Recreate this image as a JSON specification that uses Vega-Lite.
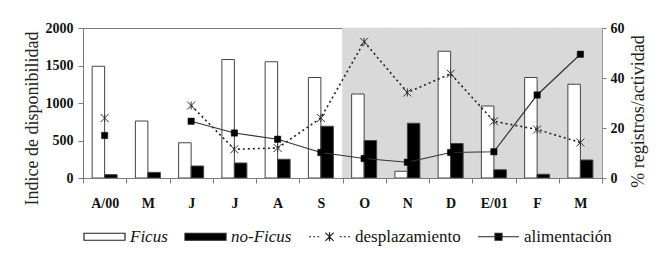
{
  "$schema": "https://vega.github.io/schema/vega-lite/v6.json",
  "width": 519,
  "height": 150,
  "autosize": "none",
  "padding": {"left": 83, "top": 28, "right": 68, "bottom": 91},
  "background": "white",
  "data": {"values": [
    {"mes": "A/00", "Ficus": 1490, "no-Ficus": 45, "desplazamiento": 24, "alimentacion": 17},
    {"mes": "May", "Ficus": 760, "no-Ficus": 75, "desplazamiento": null, "alimentacion": null},
    {"mes": "Jun", "Ficus": 470, "no-Ficus": 160, "desplazamiento": 29, "alimentacion": 22.7},
    {"mes": "Jul", "Ficus": 1580, "no-Ficus": 200, "desplazamiento": 11.5, "alimentacion": 18},
    {"mes": "Ago", "Ficus": 1550, "no-Ficus": 250, "desplazamiento": 12, "alimentacion": 15.5},
    {"mes": "Sep", "Ficus": 1340, "no-Ficus": 690, "desplazamiento": 24, "alimentacion": 10.2},
    {"mes": "Oct", "Ficus": 1120, "no-Ficus": 500, "desplazamiento": 54.5, "alimentacion": 7.8},
    {"mes": "Nov", "Ficus": 90, "no-Ficus": 730, "desplazamiento": 34.2, "alimentacion": 6.3},
    {"mes": "Dic", "Ficus": 1690, "no-Ficus": 460, "desplazamiento": 41.7, "alimentacion": 10.2},
    {"mes": "E/01", "Ficus": 960, "no-Ficus": 110, "desplazamiento": 22.7, "alimentacion": 10.5},
    {"mes": "Feb", "Ficus": 1340, "no-Ficus": 50, "desplazamiento": 19.4, "alimentacion": 33.2},
    {"mes": "Mar", "Ficus": 1250, "no-Ficus": 240, "desplazamiento": 14.2, "alimentacion": 49.5}
  ]},
  "config": {
    "font": "Liberation Serif, DejaVu Serif, serif",
    "view": {"stroke": "#7a7a7a", "strokeWidth": 1},
    "axis": {
      "grid": false,
      "domainColor": "#7a7a7a",
      "tickColor": "#7a7a7a",
      "labelFont": "Liberation Serif, DejaVu Serif, serif",
      "labelFontWeight": "bold",
      "labelFontSize": 14,
      "labelColor": "#111",
      "titleFont": "Liberation Serif, DejaVu Serif, serif",
      "titleFontWeight": "normal",
      "titleFontSize": 18,
      "titleColor": "#222"
    },
    "legend": {
      "orient": "bottom",
      "direction": "horizontal",
      "symbolSize": 1681,
      "symbolStrokeWidth": 1.2,
      "symbolStrokeColor": "#222",
      "labelFont": "Liberation Serif, DejaVu Serif, serif",
      "labelFontSize": 17,
      "labelColor": "#111",
      "labelOffset": 4,
      "columnPadding": 14,
      "offset": 5,
      "padding": 0
    }
  },
  "encoding": {
    "x": {
      "field": "mes",
      "type": "nominal",
      "sort": null,
      "scale": {
        "domain": ["A/00", "May", "Jun", "Jul", "Ago", "Sep", "Oct", "Nov", "Dic", "E/01", "Feb", "Mar"],
        "paddingInner": 0,
        "paddingOuter": 0
      },
      "axis": {
        "title": null,
        "labelAngle": 0,
        "tickBand": "extent",
        "tickSize": 5,
        "labelPadding": 13,
        "labelExpr": "datum.value == 'A/00' || datum.value == 'E/01' ? datum.value : (datum.value ? substring(datum.value, 0, 1) : '')"
      }
    }
  },
  "layer": [
    {
      "transform": [{"filter": {"field": "mes", "oneOf": ["Oct", "Nov", "Dic", "E/01", "Feb", "Mar"]}}],
      "mark": {"type": "rect", "fill": "#d9d9d9", "stroke": "#d9d9d9", "strokeWidth": 0.6}
    },
    {
      "transform": [{"fold": ["Ficus", "no-Ficus"], "as": ["serie", "valor"]}],
      "mark": {"type": "bar", "stroke": "#444", "strokeWidth": 1},
      "encoding": {
        "xOffset": {"field": "serie", "type": "nominal", "scale": {"paddingInner": 0, "paddingOuter": 0.73}},
        "y": {
          "field": "valor",
          "type": "quantitative",
          "scale": {"domain": [0, 2000]},
          "axis": {
            "title": "Indice de disponibilidad",
            "values": [0, 500, 1000, 1500, 2000],
            "format": "d",
            "tickSize": 5,
            "labelPadding": 5,
            "titlePadding": 4,
            "titleY": 90
          }
        },
        "fill": {
          "field": "serie",
          "type": "nominal",
          "scale": {
            "domain": ["Ficus", "no-Ficus", "desplazamiento", "alimentación"],
            "range": ["white", "black", "black", "black"]
          },
          "legend": {
            "title": null,
            "labelFontStyle": {"expr": "datum.value == 'Ficus' || datum.value == 'no-Ficus' ? 'italic' : 'normal'"}
          }
        }
      }
    },
    {
      "transform": [{"fold": ["Ficus", "no-Ficus"], "as": ["serie", "valor"]}, {"filter": "false"}],
      "mark": {"type": "point", "filled": true, "stroke": "#222", "strokeWidth": 1.2, "opacity": 1},
      "encoding": {
        "shape": {
          "field": "serie",
          "type": "nominal",
          "scale": {
            "domain": ["Ficus", "no-Ficus", "desplazamiento", "alimentación"],
            "range": [
              "M-1,-0.17H1V0.17H-1Z",
              "M-1,-0.17H1V0.17H-1Z",
              "M-1,0H-0.9M-0.8,0H-0.7M-0.6,0H-0.5M0.5,0H0.6M0.7,0H0.8M0.9,0H1M-0.2,-0.2L0.2,0.2M-0.2,0.2L0.2,-0.2M0,-0.22V0.22",
              "M-1,0H1M-0.17,-0.17H0.17V0.17H-0.17Z"
            ]
          },
          "legend": {
            "title": null,
            "labelFontStyle": {"expr": "datum.value == 'Ficus' || datum.value == 'no-Ficus' ? 'italic' : 'normal'"}
          }
        },
        "fill": {
          "field": "serie",
          "type": "nominal",
          "legend": {
            "title": null,
            "labelFontStyle": {"expr": "datum.value == 'Ficus' || datum.value == 'no-Ficus' ? 'italic' : 'normal'"}
          }
        }
      }
    },
    {
      "layer": [
        {
          "mark": {"type": "line", "stroke": "#222", "strokeWidth": 1.6, "strokeDash": [2, 3], "invalid": "break-paths-filter-domains"},
          "encoding": {
            "y": {
              "field": "desplazamiento",
              "type": "quantitative",
              "scale": {"domain": [0, 60]},
              "axis": {
                "orient": "right",
                "title": "% registros/actividad",
                "values": [0, 10, 20, 30, 40, 50, 60],
                "tickSize": 4,
                "labelPadding": 4,
                "titlePadding": 5,
                "titleAngle": 270,
                "titleBaseline": "top",
                "titleY": 83
              }
            }
          }
        },
        {
          "mark": {"type": "point", "shape": "M-1,-1L1,1M-1,1L1,-1M0,-1V1", "filled": false, "stroke": "#333", "strokeWidth": 1, "size": 64, "opacity": 1},
          "encoding": {"y": {"field": "desplazamiento", "type": "quantitative"}}
        },
        {
          "mark": {"type": "line", "stroke": "#333", "strokeWidth": 1.2, "invalid": "break-paths-filter-domains"},
          "encoding": {"y": {"field": "alimentacion", "type": "quantitative"}}
        },
        {
          "mark": {"type": "point", "shape": "square", "filled": true, "fill": "black", "stroke": "black", "strokeWidth": 0.5, "size": 40, "opacity": 1},
          "encoding": {"y": {"field": "alimentacion", "type": "quantitative"}}
        }
      ]
    }
  ],
  "resolve": {"scale": {"y": "independent"}}
}
